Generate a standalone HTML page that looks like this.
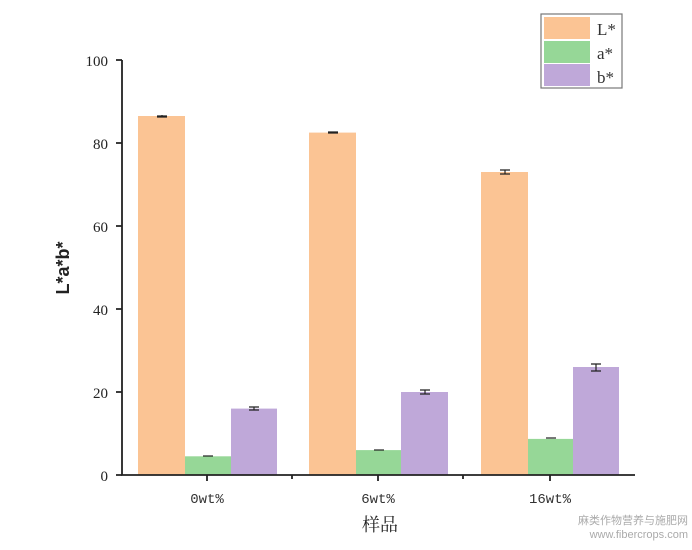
<!DOCTYPE html><html><head><style>body{margin:0;background:#fff}</style></head><body>
<svg width="692" height="545" xmlns="http://www.w3.org/2000/svg" font-family="Liberation Serif, Noto Serif CJK SC, serif">
<rect width="692" height="545" fill="#fff"/>
<g id="bars">
<rect x="138" y="116" width="47" height="359" fill="#fbc494"/>
<rect x="185" y="456.3" width="46" height="18.7" fill="#96d797"/>
<rect x="231" y="408.6" width="46" height="66.4" fill="#bfa8d9"/>
<rect x="309" y="132.6" width="47" height="342.4" fill="#fbc494"/>
<rect x="356" y="450.1" width="45" height="24.9" fill="#96d797"/>
<rect x="401" y="392" width="47" height="83" fill="#bfa8d9"/>
<rect x="481" y="172" width="47" height="303" fill="#fbc494"/>
<rect x="528" y="438.9" width="45" height="36.1" fill="#96d797"/>
<rect x="573" y="367" width="46" height="108" fill="#bfa8d9"/>
</g>
<g stroke="#222" stroke-width="1.2">
<path d="M157 116h10M162 115v2M157 117h10"/>
<path d="M203 456h10"/>
<path d="M249 407h10M254 407v3M249 410h10"/>
<path d="M328 132h10M328 133h10"/>
<path d="M374 450h10"/>
<path d="M420 390h10M425 390v4M420 394h10"/>
<path d="M500 170h10M505 170v4M500 174h10"/>
<path d="M546 438h10"/>
<path d="M591 364h10M596 364v7M591 371h10"/>
</g>
<g stroke="#222" stroke-width="1.8" fill="none">
<path d="M122 60V475H635"/>
<path d="M116 60h6M116 143h6M116 226h6M116 309h6M116 392h6M116 475h6"/>
<path d="M207 475v6M378 475v6M550 475v6M292 475v4M463 475v4"/>
</g>
<g font-size="15" fill="#222" text-anchor="end">
<text x="108" y="66">100</text><text x="108" y="149">80</text><text x="108" y="232">60</text><text x="108" y="315">40</text><text x="108" y="398">20</text><text x="108" y="481">0</text>
</g>
<g font-size="14" fill="#333" text-anchor="middle" font-family="Liberation Mono, monospace">
<text x="207" y="503">0wt%</text><text x="378" y="503">6wt%</text><text x="550" y="503">16wt%</text>
</g>
<text x="380" y="531" font-size="18" text-anchor="middle" fill="#222">样品</text>
<text transform="translate(69 268) rotate(-90)" font-size="18" font-family="Liberation Sans, sans-serif" font-weight="bold" fill="#222" text-anchor="middle">L*a*b*</text>
<rect x="541" y="14" width="81" height="74" fill="#fff" stroke="#777" stroke-width="1.2"/>
<rect x="544" y="17" width="46" height="22" fill="#fbc494"/>
<rect x="544" y="41" width="46" height="22" fill="#96d797"/>
<rect x="544" y="64" width="46" height="22" fill="#bfa8d9"/>
<g font-size="17" fill="#333"><text x="597" y="35">L*</text><text x="597" y="59">a*</text><text x="597" y="83">b*</text></g>
<text x="688" y="524" font-size="11" fill="#aaa" text-anchor="end" font-family="Liberation Sans, Noto Sans CJK SC, sans-serif">麻类作物营养与施肥网</text>
<text x="688" y="538" font-size="11" fill="#aaa" text-anchor="end" font-family="Liberation Sans, sans-serif">www.fibercrops.com</text>
</svg></body></html>
